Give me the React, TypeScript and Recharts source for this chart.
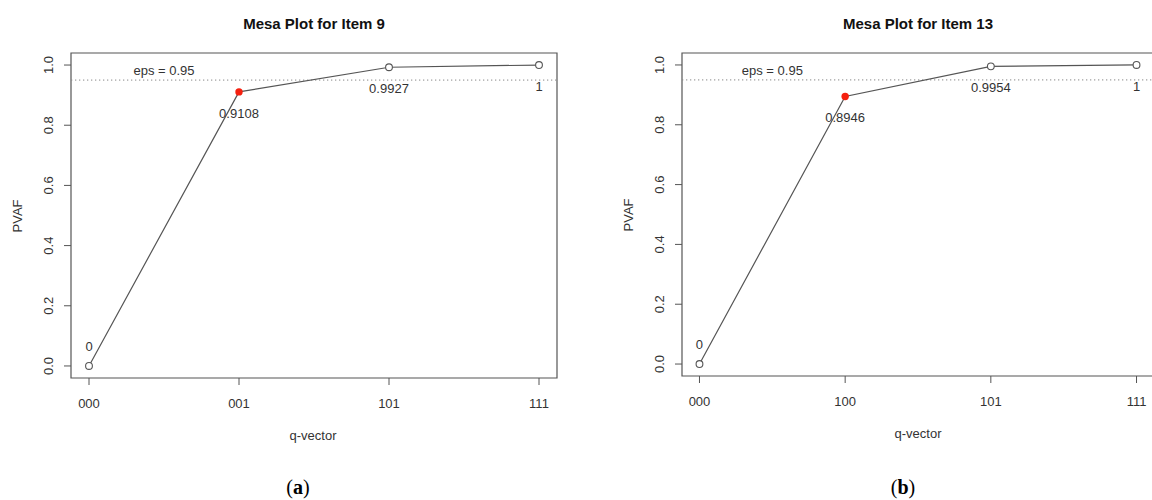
import React from 'react';
import { LineChart, Line, XAxis, YAxis, ReferenceLine, ReferenceArea, ReferenceDot, LabelList } from 'recharts';

// ---- data ----
const qVectorsA = ['000', '001', '101', '111'];
const pvafA = [0, 0.9108, 0.9927, 1];
const selectedA = 1;

const qVectorsB = ['000', '100', '101', '111'];
const pvafB = [0, 0.8946, 0.9954, 1];
const selectedB = 1;

const EPS = 0.95;
const yTicks = [0, 0.2, 0.4, 0.6, 0.8, 1.0];
const xTicks = [0, 1, 2, 3];
const X_DOMAIN: [number, number] = [-0.12, 3.12];
const Y_DOMAIN: [number, number] = [-0.04, 1.04];

const SANS = '"Liberation Sans", Arial, Helvetica, sans-serif';
const SERIF = '"Liberation Serif", "DejaVu Serif", serif';
const FS = 13;

type PanelProps = {
  left: number;
  width: number;
  plotLeft: number;
  plotRight: number;
  plotTop: number;
  plotBottom: number;
  labels: string[];
  values: number[];
  selected: number;
  title: string;
  caption: string;
  captionX: number;
  xLabelX: number;
};

const Y_AXIS_W = 60;
const X_AXIS_H = 40;

function fmt(v: number): string {
  return String(v);
}

function Panel(p: PanelProps) {
  const data = p.labels.map((q, i) => ({ idx: i, q, pvaf: p.values[i] }));
  const margin = {
    top: p.plotTop,
    right: p.width - p.plotRight,
    bottom: 500 - p.plotBottom - X_AXIS_H,
    left: p.plotLeft - Y_AXIS_W,
  };

  const XTick = (props: any) => {
    const { x, y, payload } = props;
    const cy = y + 16;
    return (
      <text x={x} y={cy + 0.36 * FS} textAnchor="middle" fontFamily={SANS} fontSize={FS} fill="#333">
        {p.labels[payload.value]}
      </text>
    );
  };

  const YTick = (props: any) => {
    const { x, y, payload } = props;
    const cx = x - 14;
    return (
      <text
        x={cx}
        y={y + 0.36 * FS}
        transform={`rotate(-90, ${cx}, ${y})`}
        textAnchor="middle"
        fontFamily={SANS}
        fontSize={FS}
        fill="#333"
      >
        {Number(payload.value).toFixed(1)}
      </text>
    );
  };

  const renderDot = (props: any) => {
    const { cx, cy, index } = props;
    if (index === p.selected) {
      return <circle key={`d${index}`} cx={cx} cy={cy} r={3.7} fill="#f5200f" stroke="none" />;
    }
    return <circle key={`d${index}`} cx={cx} cy={cy} r={3.4} fill="#fff" stroke="#555" strokeWidth={1.1} />;
  };

  const renderValueLabel = (props: any) => {
    const { x, y, value, index } = props;
    const cy = index === 0 ? y - 20 : y + 21;
    return (
      <text key={`l${index}`} x={x} y={cy + 0.36 * FS} textAnchor="middle" fontFamily={SANS} fontSize={FS} fill="#333">
        {fmt(value)}
      </text>
    );
  };

  const renderEps = (props: any) => {
    const vb = props.viewBox || {};
    const cx = (vb.x || 0) + (vb.width || 0) / 2;
    const cy = (vb.y || 0) + (vb.height || 0) / 2 - 9.5;
    return (
      <text x={cx} y={cy + 0.36 * FS} textAnchor="middle" fontFamily={SANS} fontSize={FS} fill="#333">
        {`eps = ${EPS}`}
      </text>
    );
  };

  const plotMidY = (p.plotTop + p.plotBottom) / 2;
  const plotMidX = (p.plotLeft + p.plotRight) / 2;

  const textDiv = (content: React.ReactNode, cx: number, cy: number, style: React.CSSProperties, rotate = 0) => (
    <div
      style={{
        position: 'absolute',
        left: cx,
        top: cy,
        transform: `translate(-50%, -50%)${rotate ? ` rotate(${rotate}deg)` : ''}`,
        whiteSpace: 'nowrap',
        lineHeight: 1,
        ...style,
      }}
    >
      {content}
    </div>
  );

  return (
    <div style={{ position: 'absolute', left: p.left, top: 0, width: p.width, height: 500 }}>
      <LineChart width={p.width} height={500} data={data} margin={margin}>
        <XAxis
          dataKey="idx"
          type="number"
          domain={X_DOMAIN}
          ticks={xTicks}
          interval={0}
          allowDataOverflow
          height={X_AXIS_H}
          axisLine={false}
          tickLine={{ stroke: '#555', strokeWidth: 1 }}
          tickSize={7}
          tickMargin={2}
          tick={<XTick />}
        />
        <YAxis
          type="number"
          domain={Y_DOMAIN}
          ticks={yTicks}
          interval={0}
          allowDataOverflow
          width={Y_AXIS_W}
          axisLine={false}
          tickLine={{ stroke: '#555', strokeWidth: 1 }}
          tickSize={7}
          tickMargin={2}
          tick={<YTick />}
        />
        <ReferenceArea
          x1={X_DOMAIN[0]}
          x2={X_DOMAIN[1]}
          y1={Y_DOMAIN[0]}
          y2={Y_DOMAIN[1]}
          fill="none"
          fillOpacity={0}
          stroke="#555"
          strokeWidth={1.2}
          ifOverflow="visible"
        />
        <ReferenceLine y={EPS} stroke="#888" strokeWidth={1} strokeDasharray="1.3 2.7" />
        <ReferenceDot x={0.5} y={EPS} r={0} fill="none" stroke="none" label={renderEps} />
        <Line
          type="linear"
          dataKey="pvaf"
          stroke="#555"
          strokeWidth={1.2}
          dot={renderDot}
          activeDot={false}
          isAnimationActive={false}
        >
          <LabelList dataKey="pvaf" content={renderValueLabel} />
        </Line>
      </LineChart>
      {textDiv(p.title, plotMidX, 22.7, { fontFamily: SANS, fontWeight: 'bold', fontSize: 15, color: '#111' })}
      {textDiv('PVAF', p.plotLeft - 54.5, plotMidY, { fontFamily: SANS, fontSize: FS, color: '#333' }, -90)}
      {textDiv('q-vector', p.xLabelX, p.plotBottom + 57, { fontFamily: SANS, fontSize: FS, color: '#333' })}
      {textDiv(
        <span>
          (<b>{p.caption}</b>)
        </span>,
        p.captionX,
        487,
        { fontFamily: SERIF, fontSize: 20, color: '#000' }
      )}
    </div>
  );
}

export default function App() {
  return (
    <div style={{ position: 'absolute', left: 0, top: 0, width: 1152, height: 500, overflow: 'hidden', background: '#fff' }}>
      <Panel
        left={0}
        width={576}
        plotLeft={71}
        plotRight={557}
        plotTop={53}
        plotBottom={378}
        labels={qVectorsA}
        values={pvafA}
        selected={selectedA}
        title="Mesa Plot for Item 9"
        caption="a"
        captionX={298}
        xLabelX={313}
      />
      <Panel
        left={576}
        width={580}
        plotLeft={106}
        plotRight={578}
        plotTop={53}
        plotBottom={376}
        labels={qVectorsB}
        values={pvafB}
        selected={selectedB}
        title="Mesa Plot for Item 13"
        caption="b"
        captionX={327}
        xLabelX={342}
      />
    </div>
  );
}
